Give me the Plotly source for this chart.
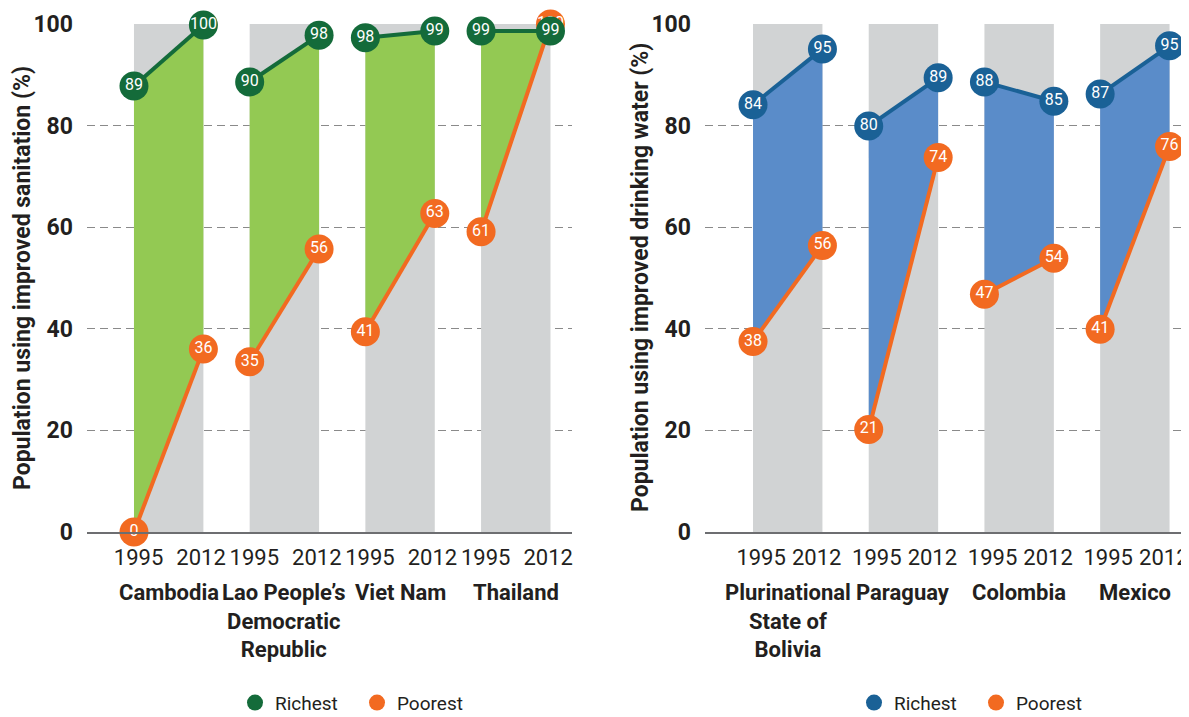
import plotly.graph_objects as go

# sanitation panel
san_countries = ["Cambodia", "Lao People’s<br>Democratic<br>Republic", "Viet Nam", "Thailand"]
san_rich_1995 = [87.8, 88.6, 97.3, 98.6]
san_rich_2012 = [99.8, 97.8, 98.6, 98.6]
san_poor_1995 = [0, 33.5, 39.4, 59.1]
san_poor_2012 = [36.0, 55.7, 62.7, 100]
san_rich_labels = [("89", "100"), ("90", "98"), ("98", "99"), ("99", "99")]
san_poor_labels = [("0", "36"), ("35", "56"), ("41", "63"), ("61", "100")]

# drinking water panel
wat_countries = ["Plurinational<br>State of<br>Bolivia", "Paraguay", "Colombia", "Mexico"]
wat_rich_1995 = [84.1, 79.9, 88.6, 86.2]
wat_rich_2012 = [95.1, 89.4, 84.8, 95.7]
wat_poor_1995 = [37.5, 20.2, 46.8, 39.9]
wat_poor_2012 = [56.4, 73.7, 53.9, 75.9]
wat_rich_labels = [("84", "95"), ("80", "89"), ("88", "85"), ("87", "95")]
wat_poor_labels = [("38", "56"), ("21", "74"), ("47", "54"), ("41", "76")]

years = ["1995", "2012"]

FONT = "Roboto, sans-serif"
TXT = "#231f20"
GRAY = "#d1d3d4"
ORANGE = "#f26a21"
# page body has an 8px margin, so the figure is 8px smaller than the window
W, H = 1181, 709
STEP = 0.6

fig = go.Figure()


def add_panel(xa, ya, countries, r95, r12, p95, p12, rlab, plab, rich_col, fill_col, legend):
    # filled gap between richest and poorest
    for i in range(len(countries)):
        fig.add_trace(go.Scatter(x=[i, i + STEP], y=[p95[i], p12[i]], mode="lines",
                                 line=dict(width=0), xaxis=xa, yaxis=ya,
                                 showlegend=False, hoverinfo="skip"))
        fig.add_trace(go.Scatter(x=[i, i + STEP], y=[r95[i], r12[i]], mode="lines",
                                 line=dict(width=0), fill="tonexty", fillcolor=fill_col,
                                 xaxis=xa, yaxis=ya, showlegend=False, hoverinfo="skip"))
        fig.add_shape(type="rect", xref=xa, yref=ya, x0=i, x1=i + STEP, y0=0, y1=100,
                      fillcolor=GRAY, line=dict(width=0), layer="between")

    for v95, v12, labs, col in [(p95, p12, plab, ORANGE), (r95, r12, rlab, rich_col)]:
        xs, ys, ts = [], [], []
        for i in range(len(countries)):
            xs += [i, i + STEP, None]
            ys += [v95[i], v12[i], None]
            ts += [labs[i][0], labs[i][1], ""]
        fig.add_trace(go.Scatter(x=xs, y=ys, text=ts, mode="lines+markers+text",
                                 line=dict(color=col, width=4),
                                 marker=dict(size=29, color=col),
                                 textposition="middle center",
                                 textfont=dict(family=FONT, size=16, color="white"),
                                 cliponaxis=False, xaxis=xa, yaxis=ya,
                                 showlegend=False, hoverinfo="skip"))

    for name, col in [("Richest", rich_col), ("Poorest", ORANGE)]:
        fig.add_trace(go.Scatter(x=[None], y=[None], mode="markers", name=name,
                                 marker=dict(size=16, color=col), xaxis=xa, yaxis=ya,
                                 legend=legend))


add_panel("x", "y", san_countries, san_rich_1995, san_rich_2012, san_poor_1995,
          san_poor_2012, san_rich_labels, san_poor_labels, "#146b3a", "#93c953", "legend")
add_panel("x2", "y2", wat_countries, wat_rich_1995, wat_rich_2012, wat_poor_1995,
          wat_poor_2012, wat_rich_labels, wat_poor_labels, "#1a6196", "#5a8cc9", "legend2")

xtick_common = dict(showgrid=False, zeroline=False, showline=True, linecolor="#6d6e71",
                    linewidth=1.5, ticks="", ticklabelstandoff=5,
                    tickfont=dict(family=FONT, size=22, color=TXT))
ytick_common = dict(range=[0, 100], tickvals=[0, 20, 40, 60, 80, 100], showgrid=True,
                    gridcolor="#8a8a8a", griddash="8px,5px", gridwidth=1.2, zeroline=False,
                    showline=False, ticks="", ticklabelstandoff=13,
                    tickfont=dict(family=FONT, size=23, color=TXT, weight="bold"))

san_ticks = [v for i in range(4) for v in (i + 0.04, i + STEP - 0.02)]
wat_ticks = [v for i in range(4) for v in (i + 0.07, i + STEP - 0.05)]

legend_common = dict(orientation="h", xanchor="center", y=-0.336, yanchor="middle",
                     traceorder="normal", font=dict(family=FONT, size=19, color=TXT),
                     itemwidth=30, entrywidthmode="pixels", entrywidth=77)

fig.update_layout(
    width=W, height=H,
    margin=dict(l=0, r=0, t=16, b=185, autoexpand=False),
    plot_bgcolor="white", paper_bgcolor="white",
    xaxis=dict(domain=[79 / W, 564 / W], range=[-0.406, 3.786],
               tickvals=san_ticks, ticktext=years * 4, **xtick_common),
    yaxis=dict(anchor="x", **ytick_common),
    xaxis2=dict(domain=[697 / W, 1.0], range=[-0.415, 3.768],
                tickvals=wat_ticks, ticktext=years * 4, **xtick_common),
    yaxis2=dict(anchor="x2", **ytick_common),
    legend=dict(x=349 / W, **legend_common),
    legend2=dict(x=968 / W, **legend_common),
)

for xa, countries in [("x", san_countries), ("x2", wat_countries)]:
    for i, c in enumerate(countries):
        fig.add_annotation(x=i + STEP / 2, xref=xa, y=-0.09, yref="paper", text=c,
                           showarrow=False, yanchor="top", xanchor="center",
                           font=dict(family=FONT, size=22, color=TXT, weight="bold"))

for x, title in [(14, "Population using improved sanitation (%)"),
                 (632, "Population using improved drinking water (%)")]:
    fig.add_annotation(x=x / W, xref="paper", y=0.5, yref="paper", text=title,
                       textangle=-90, showarrow=False, xanchor="center", yanchor="middle",
                       font=dict(family=FONT, size=23, color=TXT, weight="bold"))

fig.write_html("out.html")
